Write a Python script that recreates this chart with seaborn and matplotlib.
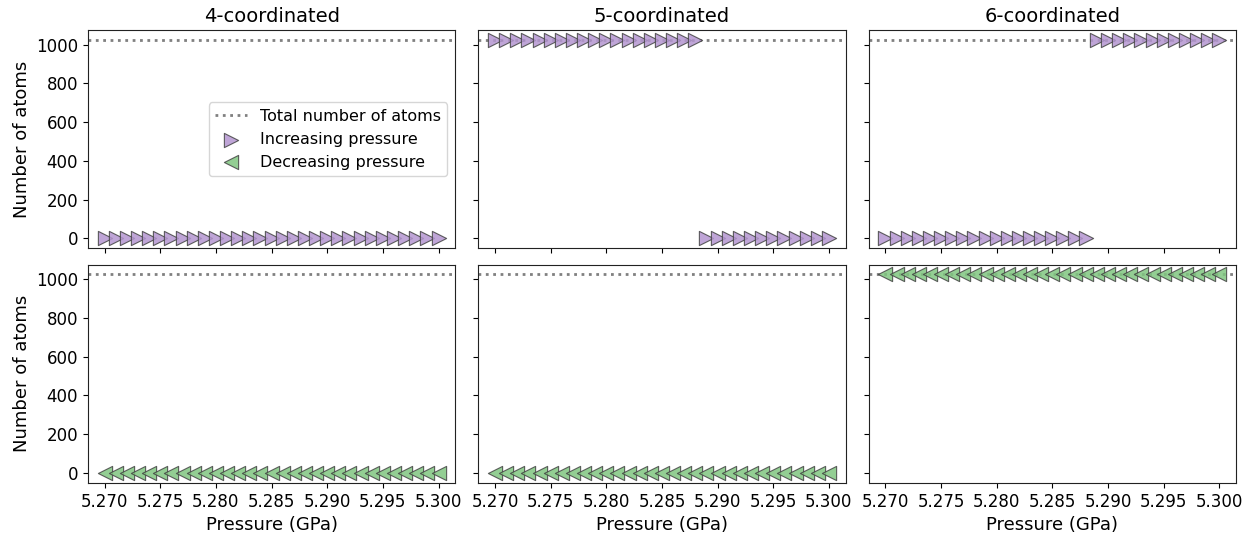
import matplotlib
matplotlib.use("Agg")
import matplotlib.pyplot as plt
import seaborn as sns
import pandas as pd

pressure = [5.270, 5.271, 5.272, 5.273, 5.274, 5.275, 5.276, 5.277, 5.278, 5.279,
            5.280, 5.281, 5.282, 5.283, 5.284, 5.285, 5.286, 5.287, 5.288, 5.289,
            5.290, 5.291, 5.292, 5.293, 5.294, 5.295, 5.296, 5.297, 5.298, 5.299, 5.300]

total_atoms = 1024

inc_4 = [0, 0, 0, 0, 0, 0, 0, 0, 0, 0, 0, 0, 0, 0, 0, 0, 0, 0, 0, 0, 0, 0, 0, 0, 0, 0, 0, 0, 0, 0, 0]
inc_5 = [1024, 1024, 1024, 1024, 1024, 1024, 1024, 1024, 1024, 1024, 1024, 1024, 1024, 1024, 1024,
         1024, 1024, 1024, 1024, 0, 0, 0, 0, 0, 0, 0, 0, 0, 0, 0, 0]
inc_6 = [0, 0, 0, 0, 0, 0, 0, 0, 0, 0, 0, 0, 0, 0, 0, 0, 0, 0, 0,
         1024, 1024, 1024, 1024, 1024, 1024, 1024, 1024, 1024, 1024, 1024, 1024]
dec_4 = [0, 0, 0, 0, 0, 0, 0, 0, 0, 0, 0, 0, 0, 0, 0, 0, 0, 0, 0, 0, 0, 0, 0, 0, 0, 0, 0, 0, 0, 0, 0]
dec_5 = [0, 0, 0, 0, 0, 0, 0, 0, 0, 0, 0, 0, 0, 0, 0, 0, 0, 0, 0, 0, 0, 0, 0, 0, 0, 0, 0, 0, 0, 0, 0]
dec_6 = [1024, 1024, 1024, 1024, 1024, 1024, 1024, 1024, 1024, 1024, 1024, 1024, 1024, 1024, 1024, 1024,
         1024, 1024, 1024, 1024, 1024, 1024, 1024, 1024, 1024, 1024, 1024, 1024, 1024, 1024, 1024]

titles = ["4-coordinated", "5-coordinated", "6-coordinated"]

sns.set_style("ticks")
plt.rcParams['font.family'] = ['DejaVu Sans']
plt.rcParams['text.color'] = 'black'
plt.rcParams['axes.labelcolor'] = 'black'
plt.rcParams['xtick.color'] = 'black'
plt.rcParams['ytick.color'] = 'black'

inc_color = "#b496d0"
dec_color = "#80c680"
edge = "#444444"

fig, axes = plt.subplots(2, 3, figsize=(12.51, 5.36), dpi=100, sharex=True, sharey=True)
fig.subplots_adjust(left=0.0703, right=0.988, top=0.944, bottom=0.099, wspace=0.063, hspace=0.074)

rows = [([inc_4, inc_5, inc_6], ">", inc_color, "Increasing pressure"),
        ([dec_4, dec_5, dec_6], "<", dec_color, "Decreasing pressure")]

for r, (series, marker, color, label) in enumerate(rows):
    for c in range(3):
        ax = axes[r, c]
        df = pd.DataFrame({"p": pressure, "n": series[c]})
        ax.axhline(total_atoms, color="gray", linestyle=":", linewidth=2,
                   label="Total number of atoms", zorder=1)
        sns.scatterplot(data=df, x="p", y="n", ax=ax, marker=marker, s=105,
                        color=color, edgecolor=edge, linewidth=0.8, alpha=0.85,
                        label=label, zorder=3)
        for sp in ax.spines.values():
            sp.set_visible(True)
            sp.set_color("#222222")
        ax.tick_params(labelsize=12)
        ax.set_xlabel("Pressure (GPa)" if r == 1 else "", fontsize=13)
        ax.set_ylabel("Number of atoms" if c == 0 else "", fontsize=13)
        if r == 0:
            ax.set_title(titles[c], fontsize=14)
        leg = ax.get_legend()
        if leg is not None:
            leg.remove()

axes[0, 0].set_xticks([5.270, 5.275, 5.280, 5.285, 5.290, 5.295, 5.300])
axes[0, 0].set_xticklabels(["5.270", "5.275", "5.280", "5.285", "5.290", "5.295", "5.300"])
axes[0, 0].set_yticks([0, 200, 400, 600, 800, 1000])

h1, l1 = axes[0, 0].get_legend_handles_labels()
h2, l2 = axes[1, 0].get_legend_handles_labels()
axes[0, 0].legend([h1[0], h1[1], h2[1]], [l1[0], l1[1], l2[1]], loc="center right",
                  fontsize=11.5, frameon=True)

fig.savefig("out.png", dpi=100)
